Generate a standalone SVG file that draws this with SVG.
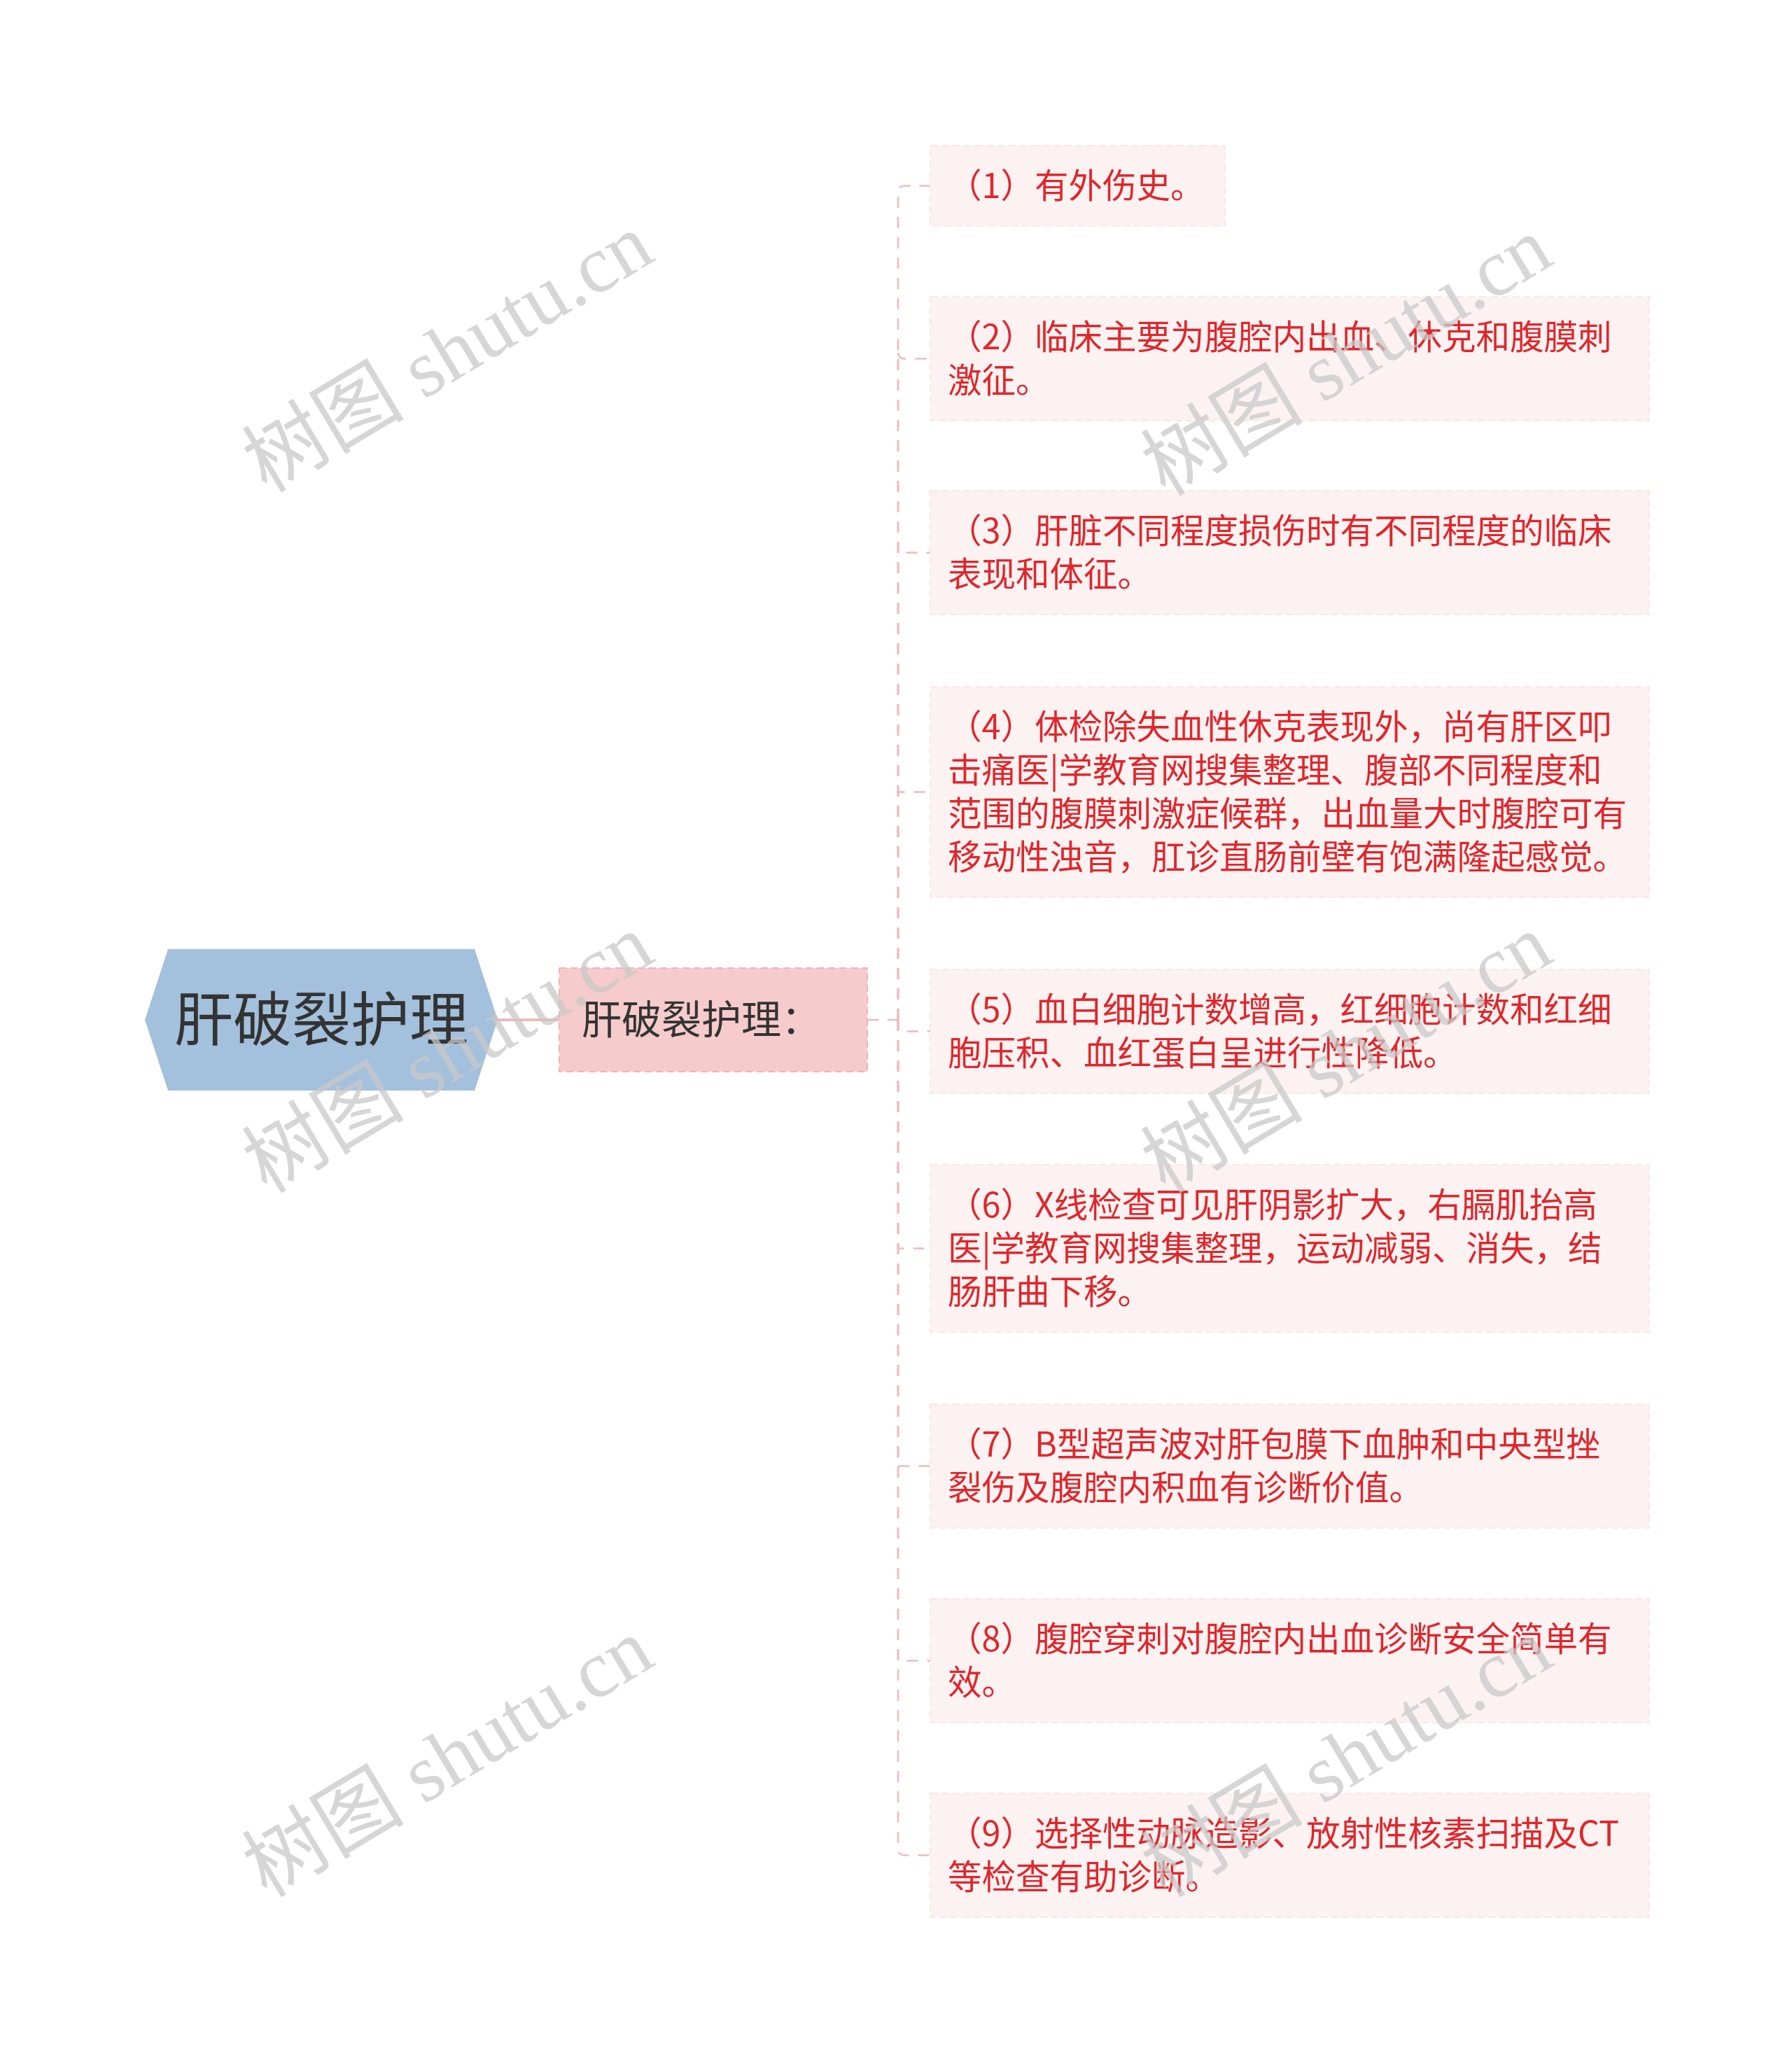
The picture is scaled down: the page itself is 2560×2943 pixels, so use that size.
<svg xmlns="http://www.w3.org/2000/svg" width="2560" height="2943" viewBox="0 0 2560 2943">
<style>
.box{fill:#fcf2f2;stroke:#fbe7e7;stroke-width:2;stroke-dasharray:10 6}
.t{font-family:"Noto Sans CJK SC","Noto Sans",sans-serif;font-size:48.5px;fill:#e0262b}
.conn{fill:none;stroke:#f2b8bc;stroke-width:2.5;stroke-dasharray:16 13}
.wm{font-family:"Liberation Serif","Noto Sans CJK SC",serif;font-size:116px;fill:#c8c8c8;fill-opacity:0.75}
</style>
<rect width="2560" height="2943" fill="#ffffff"/>
<g id="connectors">
<line x1="711" y1="1457" x2="799" y2="1457" stroke="#f2b8b8" stroke-width="4"/>
<path class="conn" d="M1239 1457 H1283"/>
<path class="conn" d="M1283 1457 V275 Q1283 265.5 1293 265.5 H1329"/>
<path class="conn" d="M1283 1457 V502 Q1283 512.5 1293 512.5 H1329"/>
<path class="conn" d="M1283 1457 V779 Q1283 789.5 1293 789.5 H1329"/>
<path class="conn" d="M1283 1457 V1131.5 H1329"/>
<path class="conn" d="M1283 1457 V1473.5 H1329"/>
<path class="conn" d="M1283 1457 V1783.5 H1329"/>
<path class="conn" d="M1283 1457 V2094.5 H1329"/>
<path class="conn" d="M1283 1457 V2372.5 H1329"/>
<path class="conn" d="M1283 1457 V2640 Q1283 2650.5 1293 2650.5 H1329"/>
</g>
<g id="root">
<polygon points="207,1457 240,1356 678,1356 711,1457 678,1558 240,1558" fill="#a3c0dc"/>
<text x="459" y="1487" text-anchor="middle" style="font-family:'Noto Sans CJK SC','Noto Sans',sans-serif;font-size:84px;fill:#333333">肝破裂护理</text>
</g>
<g id="sub">
<rect x="799" y="1383" width="440" height="148" fill="#f6cbcb" stroke="#efb4b4" stroke-width="2" stroke-dasharray="10 6"/>
<text x="831" y="1477" style="font-family:'Noto Sans CJK SC','Noto Sans',sans-serif;font-size:57px;fill:#333333">肝破裂护理：</text>
</g>
<g id="c1">
<rect class="box" x="1329" y="208" width="421" height="115"/>
<text class="t" x="1354" y="282.5">（1）有外伤史。</text>
</g>
<g id="c2">
<rect class="box" x="1329" y="424" width="1027" height="177"/>
<text class="t"><tspan x="1354" y="498.5">（2）临床主要为腹腔内出血、休克和腹膜刺</tspan><tspan x="1354" y="560.5">激征。</tspan></text>
</g>
<g id="c3">
<rect class="box" x="1329" y="701" width="1027" height="177"/>
<text class="t"><tspan x="1354" y="775.5">（3）肝脏不同程度损伤时有不同程度的临床</tspan><tspan x="1354" y="837.5">表现和体征。</tspan></text>
</g>
<g id="c4">
<rect class="box" x="1329" y="981" width="1027" height="301"/>
<text class="t"><tspan x="1354" y="1055.5">（4）体检除失血性休克表现外，尚有肝区叩</tspan><tspan x="1354" y="1117.5">击痛医|学教育网搜集整理、腹部不同程度和</tspan><tspan x="1354" y="1179.5">范围的腹膜刺激症候群，出血量大时腹腔可有</tspan><tspan x="1354" y="1241.5">移动性浊音，肛诊直肠前壁有饱满隆起感觉。</tspan></text>
</g>
<g id="c5">
<rect class="box" x="1329" y="1385" width="1027" height="177"/>
<text class="t"><tspan x="1354" y="1459.5">（5）血白细胞计数增高，红细胞计数和红细</tspan><tspan x="1354" y="1521.5">胞压积、血红蛋白呈进行性降低。</tspan></text>
</g>
<g id="c6">
<rect class="box" x="1329" y="1664" width="1027" height="239"/>
<text class="t"><tspan x="1354" y="1738.5">（6）X线检查可见肝阴影扩大，右膈肌抬高</tspan><tspan x="1354" y="1800.5">医|学教育网搜集整理，运动减弱、消失，结</tspan><tspan x="1354" y="1862.5">肠肝曲下移。</tspan></text>
</g>
<g id="c7">
<rect class="box" x="1329" y="2006" width="1027" height="177"/>
<text class="t"><tspan x="1354" y="2080.5">（7）B型超声波对肝包膜下血肿和中央型挫</tspan><tspan x="1354" y="2142.5">裂伤及腹腔内积血有诊断价值。</tspan></text>
</g>
<g id="c8">
<rect class="box" x="1329" y="2284" width="1027" height="177"/>
<text class="t"><tspan x="1354" y="2358.5">（8）腹腔穿刺对腹腔内出血诊断安全简单有</tspan><tspan x="1354" y="2420.5">效。</tspan></text>
</g>
<g id="c9">
<rect class="box" x="1329" y="2562" width="1027" height="177"/>
<text class="t"><tspan x="1354" y="2636.5">（9）选择性动脉造影、放射性核素扫描及CT</tspan><tspan x="1354" y="2698.5">等检查有助诊断。</tspan></text>
</g>
<g id="watermarks">
<text class="wm" text-anchor="middle" transform="translate(660,538) rotate(-31)">树图 shutu.cn</text>
<text class="wm" text-anchor="middle" transform="translate(1944,543) rotate(-31)">树图 shutu.cn</text>
<text class="wm" text-anchor="middle" transform="translate(660,1539) rotate(-31)">树图 shutu.cn</text>
<text class="wm" text-anchor="middle" transform="translate(1944,1539) rotate(-31)">树图 shutu.cn</text>
<text class="wm" text-anchor="middle" transform="translate(660,2545) rotate(-31)">树图 shutu.cn</text>
<text class="wm" text-anchor="middle" transform="translate(1944,2545) rotate(-31)">树图 shutu.cn</text>
</g>
</svg>
